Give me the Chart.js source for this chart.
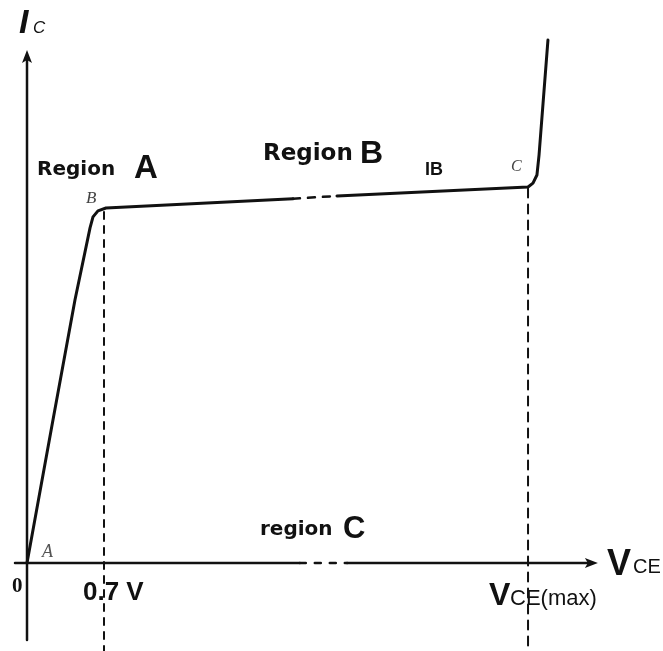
<!DOCTYPE html>
<html>
<head>
<meta charset="utf-8">
<script src="https://cdn.jsdelivr.net/npm/chart.js@4"></script>
<style>
  html, body { margin: 0; padding: 0; background: #fff; }
  canvas { display: block; }
</style>
</head>
<body>
<canvas id="chart" width="663" height="651"></canvas>
<script>
// Transistor output characteristic (schematic).
// x in volts (VCE), y in arbitrary Ic units.
const curveRiseX  = [0, 0.236, 0.436, 0.573, 0.60, 0.645, 0.718, 2.418];
const curveRiseY  = [0, 4.03, 7.41, 9.44, 9.75, 9.92, 10.0, 10.26];
const curveGapX   = [2.418, 2.818];
const curveGapY   = [10.26, 10.34];
const curveFlatX  = [2.818, 4.555, 4.60, 4.636, 4.655, 4.736];
const curveFlatY  = [10.34, 10.59, 10.70, 10.93, 11.49, 14.73];

const xAxisX = [-0.109, 2.48, 2.91, 5.19];   // solid, dashed gap, solid
const yAxisY = [-2.17, 14.45];

const kneeX = 0.7;      // 0.7 V
const kneeTop = 9.89;
const vmaxX = 4.555;    // VCE(max)
const vmaxTop = 10.55;

const X_MIN = -0.2455, X_MAX = 5.782;
const Y_MIN = -2.479, Y_MAX = 15.859;

const pts = (xs, ys) => xs.map((x, i) => ({ x, y: ys[i] }));
const ink = "#111";

const labels = [
  { t: "I",       x: -0.073, y: 14.93,  font: "italic bold 34px 'Liberation Sans'" },
  { t: "C",       x: 0.055,  y: 14.93,  font: "italic 17px 'Liberation Sans'" },
  { t: "Region",  x: 0.091,  y: 10.93,  font: "bold 20px 'DejaVu Sans'" },
  { t: "A",       x: 0.973,  y: 10.85,  font: "bold 33px 'Liberation Sans'" },
  { t: "B",       x: 0.536,  y: 10.14,  font: "italic 17px 'Liberation Serif'", color: "#444" },
  { t: "Region",  x: 2.145,  y: 11.35,  font: "bold 23px 'DejaVu Sans'" },
  { t: "B",       x: 3.027,  y: 11.27,  font: "bold 32px 'Liberation Sans'" },
  { t: "IB",      x: 3.618,  y: 10.93,  font: "bold 18px 'Liberation Sans'" },
  { t: "C",       x: 4.40,   y: 11.04,  font: "italic 16px 'Liberation Serif'", color: "#444" },
  { t: "A",       x: 0.136,  y: 0.169,  font: "italic 18px 'Liberation Serif'", color: "#555" },
  { t: "0",       x: -0.136, y: -0.817, font: "bold 21px 'Liberation Serif'" },
  { t: "0.7 V",   x: 0.509,  y: -1.042, font: "bold 26px 'Liberation Sans'" },
  { t: "region",  x: 2.118,  y: 0.789,  font: "bold 20px 'DejaVu Sans'" },
  { t: "C",       x: 2.873,  y: 0.704,  font: "bold 31px 'Liberation Sans'" },
  { t: "V",       x: 5.273,  y: -0.338, font: "bold 36px 'Liberation Sans'" },
  { t: "CE",      x: 5.509,  y: -0.282, font: "20px 'Liberation Sans'" },
  { t: "V",       x: 4.20,   y: -1.183, font: "bold 32px 'Liberation Sans'" },
  { t: "CE(max)", x: 4.391,  y: -1.183, font: "22px 'Liberation Sans'" },
];

const line = (data, width, dash) => ({
  data, showLine: true, borderColor: ink, borderWidth: width,
  borderDash: dash || [], pointRadius: 0, tension: 0, fill: false,
  borderCapStyle: "round", borderJoinStyle: "round",
});

// arrowheads and text, placed through the scales
const decor = {
  id: "decor",
  afterDatasetsDraw(chart) {
    const { ctx, scales: { x, y } } = chart;
    const arrow = (px, py, dir) => {
      ctx.save();
      ctx.translate(px, py);
      ctx.rotate(dir);
      ctx.beginPath();
      ctx.moveTo(0, 0);
      ctx.lineTo(-13, -5);
      ctx.lineTo(-10, 0);
      ctx.lineTo(-13, 5);
      ctx.closePath();
      ctx.fillStyle = ink;
      ctx.fill();
      ctx.restore();
    };
    arrow(x.getPixelForValue(0), y.getPixelForValue(yAxisY[1]), -Math.PI / 2);
    arrow(x.getPixelForValue(xAxisX[3]), y.getPixelForValue(0), 0);

    ctx.save();
    ctx.textBaseline = "alphabetic";
    ctx.textAlign = "left";
    for (const l of labels) {
      ctx.font = l.font;
      ctx.fillStyle = l.color || ink;
      ctx.fillText(l.t, x.getPixelForValue(l.x), y.getPixelForValue(l.y));
    }
    ctx.restore();
  },
};

new Chart(document.getElementById("chart"), {
  type: "scatter",
  data: {
    datasets: [
      line(pts([xAxisX[0], xAxisX[1]], [0, 0]), 2.5),
      line(pts([xAxisX[1], xAxisX[2]], [0, 0]), 2.5, [6, 9]),
      line(pts([xAxisX[2], xAxisX[3] - 0.05], [0, 0]), 2.5),
      line(pts([0, 0], [yAxisY[0], yAxisY[1] - 0.2]), 2.5),
      line(pts([kneeX, kneeX], [kneeTop, Y_MIN]), 2, [7, 7]),
      line(pts([vmaxX, vmaxX], [vmaxTop, Y_MIN]), 2, [9, 7]),
      line(pts(curveRiseX, curveRiseY), 3),
      line(pts(curveGapX, curveGapY), 2.5, [7, 8]),
      line(pts(curveFlatX, curveFlatY), 3),
    ],
  },
  options: {
    responsive: false,
    animation: false,
    layout: { padding: 0 },
    plugins: { legend: { display: false }, tooltip: { enabled: false } },
    scales: {
      x: { type: "linear", min: X_MIN, max: X_MAX, display: false },
      y: { type: "linear", min: Y_MIN, max: Y_MAX, display: false },
    },
  },
  plugins: [decor],
});
</script>
</body>
</html>
